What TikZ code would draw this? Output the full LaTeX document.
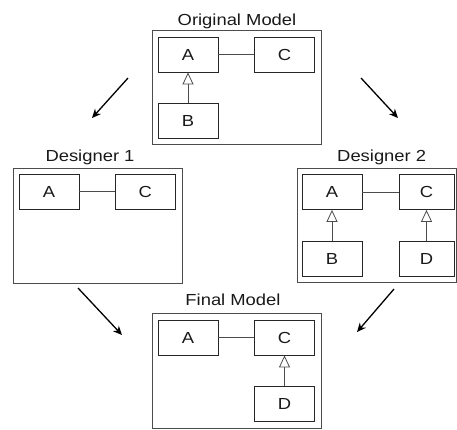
\documentclass[tikz,border=0pt]{standalone}
\usepackage{fontspec}
\setmainfont{Liberation Sans}[FakeStretch=1.15]
\usetikzlibrary{arrows.meta}
\tikzset{cls/.style={
    draw=black!85, line width=0.8pt,
    minimum width=60pt, minimum height=35pt, inner sep=0pt
}}
\tikzset{narrowcls/.style={cls, minimum width=55pt}}
\tikzset{modelframe/.style={draw=black!70, line width=1pt}}
\tikzset{modeltitle/.style={anchor=base}}
\tikzset{assoc/.style={draw=black!70, line width=0.8pt}}
\tikzset{inherit/.style={
    draw=black!70, line width=0.8pt,
    -{Triangle[open, width=11pt, length=12pt]}
}}
\tikzset{flow/.style={line width=1.3pt, -{Stealth[width=8pt, length=9pt]}}}

\begin{document}
\begin{tikzpicture}[x=1pt, y=-1pt, font=\fontsize{16}{20}\selectfont, text=black!90]

\useasboundingbox (0,0) rectangle (457,429);

%original
\node[modeltitle] (origT) at (237,25) {Original Model};
\draw[modelframe] (152,30) rectangle (321,144);
\node[cls] (oA) at (188,54.5) {A};
\node[cls] (oC) at (284.5,54.5) {C};
\node[cls] (oB) at (188,120.5) {B};
    \draw[assoc] (oA) -- (oC);
    \draw[inherit] (oB) -- (oA);

%designer 1
\node[modeltitle] (desAT) at (90,161.5) {Designer 1};
\draw[modelframe] (13,168) rectangle (182,283);
\node[cls] (dA) at (49,191.8) {A};
\node[cls] (dC) at (145.3,191.8) {C};
    \draw[assoc] (dA) -- (dC);

%designer 2
\node[modeltitle] (desBT) at (381.7,161.5) {Designer 2};
\draw[modelframe] (297,168) rectangle (456.5,282);
\node[cls] (eA) at (332,192) {A};
\node[narrowcls] (eC) at (426.5,192) {C};
\node[cls] (eB) at (332,258.7) {B};
\node[narrowcls] (eD) at (426.5,258.7) {D};
    \draw[assoc] (eA) -- (eC);
    \draw[inherit] (eB) -- (eA);
    \draw[inherit] (eD) -- (eC);

%final
\node[modeltitle] (finT) at (233,305) {Final Model};
\draw[modelframe] (152,313) rectangle (321.5,428);
\node[cls] (fA) at (188,337.5) {A};
\node[cls] (fC) at (284.5,337.5) {C};
\node[cls] (fD) at (284.5,403.5) {D};
    \draw[assoc] (fA) -- (fC);
    \draw[inherit] (fD) -- (fC);

%flow arrows
\coordinate (tlS) at (128,78);
\coordinate (tlE) at (92,118);
\coordinate (trS) at (361,78);
\coordinate (trE) at (398,118);
\coordinate (blS) at (78,288);
\coordinate (blE) at (122,335);
\coordinate (brS) at (394,289);
\coordinate (brE) at (357,332);
\draw[flow] (tlS) -- (tlE);
\draw[flow] (trS) -- (trE);
\draw[flow] (blS) -- (blE);
\draw[flow] (brS) -- (brE);

\end{tikzpicture}
\end{document}
